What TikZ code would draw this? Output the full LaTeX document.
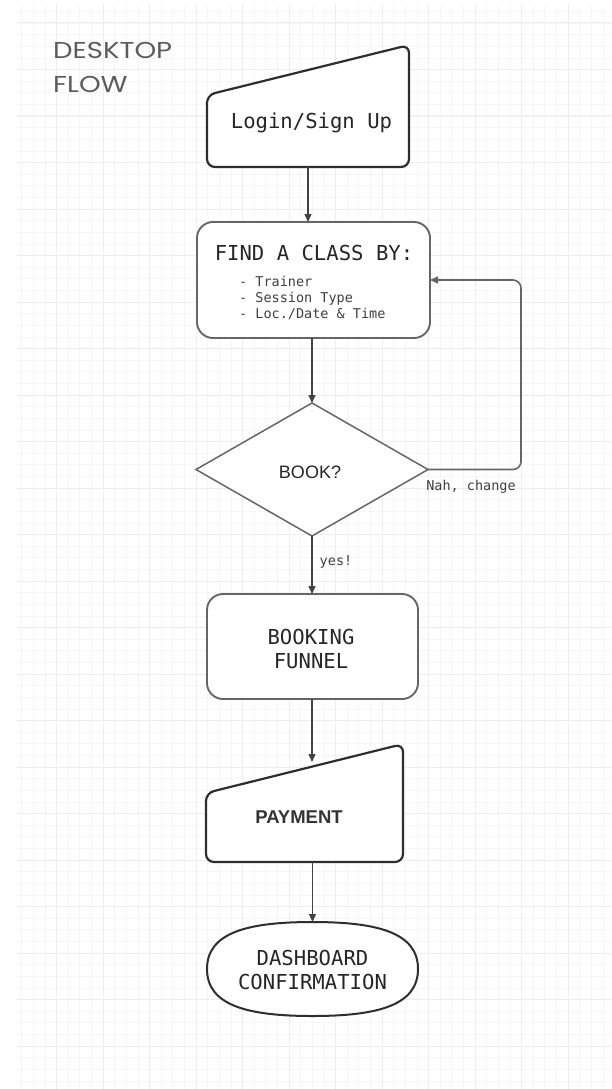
\documentclass[tikz,border=0pt]{standalone}
\usepackage{fontspec}
\setmainfont{Liberation Sans}
\setmonofont{DejaVu Sans Mono}
\newfontfamily\titlefont{Poppins}
\usetikzlibrary{shapes.geometric,arrows.meta,calc}
\definecolor{gridmajor}{HTML}{EDEDED}
\definecolor{gridminor}{HTML}{F6F6F6}
\definecolor{inkdark}{HTML}{2E2E2E}
\definecolor{inkgray}{HTML}{666666}
\definecolor{titlegray}{HTML}{5C5C5C}
\tikzset{
  ghost/.style={draw=none,inner sep=0pt,outer sep=0pt,rectangle},
  manualbox/.style={draw=inkdark,line width=2.2pt,rounded corners=8pt,fill=white},
  softbox/.style={draw=inkgray,line width=1.9pt,rounded corners=16pt,fill=white,inner sep=0pt,outer sep=0pt},
  decision/.style={diamond,draw=inkgray,line width=1.5pt,fill=white,inner sep=0pt,outer sep=0pt},
  termbox/.style={draw=inkdark,line width=2pt,fill=white},
  flow/.style={draw=inkdark!90,line width=1.3pt,-{Triangle[length=8pt,width=7pt]}},
  loopflow/.style={draw=inkgray,line width=1.6pt,rounded corners=8pt,-{Triangle[length=8pt,width=7pt]}},
  monolabel/.style={font=\ttfamily\fontsize{20.6}{24}\selectfont,text=black!85,align=center,inner sep=0pt},
  smalllabel/.style={font=\ttfamily\fontsize{13.5}{16}\selectfont,text=black!75,inner sep=0pt},
  sanslabel/.style={font=\fontsize{18}{22}\selectfont,text=black!85,inner sep=0pt},
  titlelabel/.style={font=\titlefont\fontsize{23}{28}\selectfont,text=titlegray,inner sep=0pt,anchor=base west}
}
\begin{document}
\begin{tikzpicture}[x=1pt,y=-1pt]
\fill[white] (0,0) rectangle (611,1089);
\useasboundingbox (0,0) rectangle (611,1089);
% grid
\begin{scope}
\clip (17,5) rectangle (611,1089);
\foreach \k in {0,...,55} {\draw[gridminor,line width=0.6pt] ({10+11.625*\k},0) -- ({10+11.625*\k},1089);}
\foreach \k in {0,...,96} {\draw[gridminor,line width=0.6pt] (0,{-23.5+11.625*\k}) -- (611,{-23.5+11.625*\k});}
\foreach \k in {0,...,13} {\draw[gridmajor,line width=1pt] ({10+46.5*\k},0) -- ({10+46.5*\k},1089);}
\foreach \k in {0,...,24} {\draw[gridmajor,line width=1pt] (0,{-23.5+46.5*\k}) -- (611,{-23.5+46.5*\k});}
\end{scope}

% title
\node[titlelabel] (title1) at (53,59) {\scalebox{1.2}[1]{DESKTOP}};
\node[titlelabel] (title2) at (53,92.5) {\scalebox{1.2}[1]{FLOW}};

% Login / Sign Up (manual input)
\node[ghost,minimum width=202pt,minimum height=122pt] (login) at (308,106) {};
\draw[manualbox] ($(login.north west)+(0,50)$) -- (login.north east) -- (login.south east) -- (login.south west) -- cycle;
\node[monolabel] (loginT) at (311.5,123) {Login/Sign Up};

% Find a class
\node[softbox,minimum width=233pt,minimum height=116pt] (find) at (313.5,280) {};
\node[monolabel] (findT) at (314,253) {FIND A CLASS BY:};
\node[smalllabel,anchor=west,align=left] (findL) at (239,297.5) {- Trainer\\- Session Type\\- Loc./Date \& Time};

% Decision
\node[decision,minimum width=232pt,minimum height=133pt] (book) at (312,469.5) {};
\node[sanslabel] (bookT) at (310,472) {BOOK?};

% Booking funnel
\node[softbox,minimum width=211pt,minimum height=105pt] (booking) at (312.5,646.5) {};
\node[monolabel] (bookingT) at (311,649) {BOOKING\\FUNNEL};

% Payment (manual input)
\node[ghost,minimum width=197pt,minimum height=118pt] (pay) at (304.5,803) {};
\draw[manualbox] ($(pay.north west)+(0,49)$) -- (pay.north east) -- (pay.south east) -- (pay.south west) -- cycle;
\node[sanslabel,font=\fontsize{18.5}{22}\selectfont\bfseries,text=black!80] (payT) at (299,817) {PAYMENT};
\coordinate (payIn) at (312,762);

% Dashboard confirmation (terminal)
\node[ghost,minimum width=211pt,minimum height=94pt] (dash) at (312.5,969) {};
\draw[termbox] (dash.west) .. controls ($(dash.west)+(0,-36)$) and ($(dash.north)+(-66,0)$) .. (dash.north)
  .. controls ($(dash.north)+(66,0)$) and ($(dash.east)+(0,-36)$) .. (dash.east)
  .. controls ($(dash.east)+(0,36)$) and ($(dash.south)+(66,0)$) .. (dash.south)
  .. controls ($(dash.south)+(-66,0)$) and ($(dash.west)+(0,36)$) .. (dash.west) -- cycle;
\node[monolabel] (dashT) at (312.5,970) {DASHBOARD\\CONFIRMATION};

% connectors
\draw[flow] (login.south) -- (login.south |- find.north);
\draw[flow] (find.south -| book.north) -- (book.north);
\draw[flow] (book.south) -- (book.south |- booking.north);
\draw[flow] (booking.south -| payIn) -- (payIn);
\draw[flow] (dash.north |- pay.south) -- (dash.north);
\coordinate (loopA) at (521,469.5);
\draw[loopflow] (book.east) -- (loopA) |- (find.east);

% connector labels
\node[smalllabel] (nah) at (471,487) {Nah, change};
\node[smalllabel] (yes) at (336,562) {yes!};
\end{tikzpicture}
\end{document}
